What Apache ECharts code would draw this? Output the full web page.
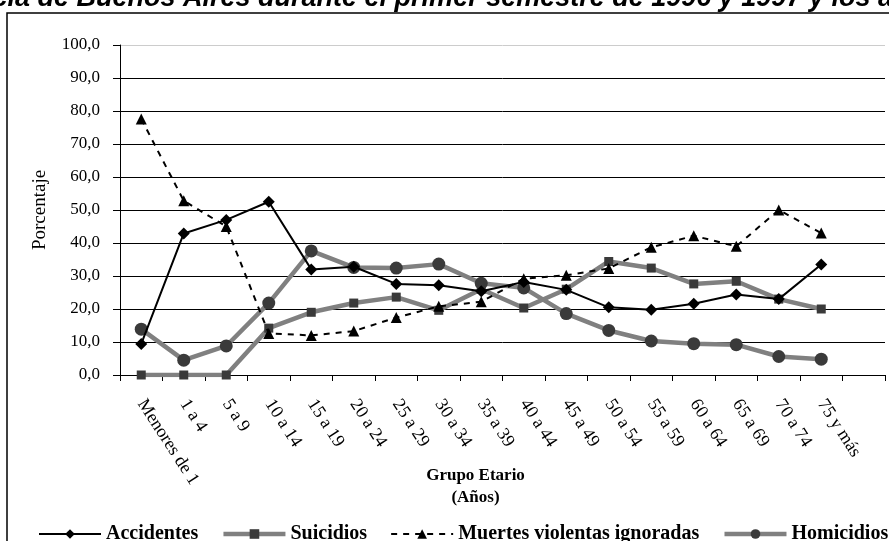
<!DOCTYPE html>
<html>
<head>
<meta charset="utf-8">
<script src="https://cdn.jsdelivr.net/npm/echarts@6/dist/echarts.min.js"></script>
<style>html,body{margin:0;padding:0;background:#fff;}#c{width:889px;height:541px;}</style>
</head>
<body>
<div id="c"></div>
<script>
const categories = ['Menores de 1','1 a 4','5 a 9','10 a 14','15 a 19','20 a 24','25 a 29','30 a 34','35 a 39','40 a 44','45 a 49','50 a 54','55 a 59','60 a 64','65 a 69','70 a 74','75 y más',''];
const accidentes = [9.4, 42.9, 47.0, 52.5, 32.0, 32.8, 27.6, 27.2, 25.4, 28.2, 25.8, 20.5, 19.8, 21.6, 24.4, 23.0, 33.5];
const suicidios  = [0.0, 0.0, 0.0, 14.2, 19.0, 21.8, 23.6, 19.6, 26.0, 20.3, 26.0, 34.4, 32.4, 27.6, 28.4, 23.0, 20.0];
const ignoradas  = [77.6, 52.8, 45.0, 12.6, 12.0, 13.3, 17.4, 20.8, 22.2, 29.2, 30.2, 32.3, 38.7, 42.2, 39.0, 50.0, 43.0];
const homicidios = [13.9, 4.5, 8.8, 21.8, 37.6, 32.6, 32.4, 33.6, 27.8, 26.4, 18.6, 13.5, 10.3, 9.5, 9.2, 5.6, 4.8];
const yTicks = [0,10,20,30,40,50,60,70,80,90,100];

const serif = 'Liberation Serif, Times New Roman, serif';
const chart = echarts.init(document.getElementById('c'));
chart.setOption({
  animation: false,
  backgroundColor: '#fff',
  graphic: [
    {type:'rect', shape:{x:7, y:13, width:900, height:540}, style:{fill:'none', stroke:'#000', lineWidth:1.5}, z:-1},
    {type:'text', left:-24, top:-15, style:{text:'ncia de Buenos Aires durante el primer semestre de 1996 y 1997 y los años', font:'italic bold 27px Liberation Sans, Arial, sans-serif', fill:'#000'}}
  ],
  grid: {left:120, top:45, right:4, bottom:166, containLabel:false},
  legend: {
    left: 33, top: 519, width: 1400, itemWidth: 62, itemHeight: 12, itemGap: 23,
    textStyle: {fontFamily: serif, fontWeight:'bold', fontSize: 20, color:'#000'},
    data: [
      {name:'Accidentes', lineStyle:{width:2}},
      {name:'Suicidios', lineStyle:{width:4.5}},
      {name:'Muertes violentas ignoradas', lineStyle:{width:2}},
      {name:'Homicidios', lineStyle:{width:4.5}}
    ]
  },
  xAxis: {
    type:'category', data: categories, boundaryGap:true,
    axisLine:{lineStyle:{color:'#000', width:1}},
    axisTick:{show:true, interval:0, length:6, lineStyle:{color:'#000'}},
    axisLabel:{interval:0, rotate:-57, margin:26, fontFamily:serif, fontSize:18, color:'#000'},
    name:'Grupo Etario\n(Años)', nameLocation:'middle', nameGap:90, nameMoveOverlap:false,
    nameTextStyle:{fontFamily:serif, fontWeight:'bold', fontSize:17, color:'#000', lineHeight:22, padding:[0,54,0,0]}
  },
  yAxis: {
    type:'value', min:0, max:100, interval:10,
    axisLine:{show:true, lineStyle:{color:'#000', width:1}},
    axisTick:{show:true, length:7, lineStyle:{color:'#000'}},
    axisLabel:{margin:20, fontFamily:serif, fontSize:17, color:'#000', formatter: v => v.toFixed(1).replace('.', ',')},
    splitLine:{show:true, lineStyle:{color:['#000','#000','#000','#000','#000','#000','#000','#000','#000','#000','#ccc'], width:1}},
    name:'Porcentaje', nameLocation:'middle', nameRotate:90, nameGap:70, nameMoveOverlap:false,
    nameTextStyle:{fontFamily:serif, fontSize:19, color:'#000'}
  },
  series: [
    {name:'Accidentes', type:'line', data:accidentes, symbol:'diamond', symbolSize:12,
     lineStyle:{color:'#000', width:2}, itemStyle:{color:'#000'}, z:4},
    {name:'Suicidios', type:'line', data:suicidios, symbol:'rect', symbolSize:9,
     lineStyle:{color:'#808080', width:4.5}, itemStyle:{color:'#3a3a3a'}, z:2},
    {name:'Muertes violentas ignoradas', type:'line', data:ignoradas, symbol:'triangle', symbolSize:11,
     lineStyle:{color:'#000', width:2, type:[6,6]}, itemStyle:{color:'#000'}, z:5},
    {name:'Homicidios', type:'line', data:homicidios, symbol:'circle', symbolSize:13,
     lineStyle:{color:'#808080', width:4.5}, itemStyle:{color:'#3a3a3a'}, z:3}
  ]
});
</script>
</body>
</html>
